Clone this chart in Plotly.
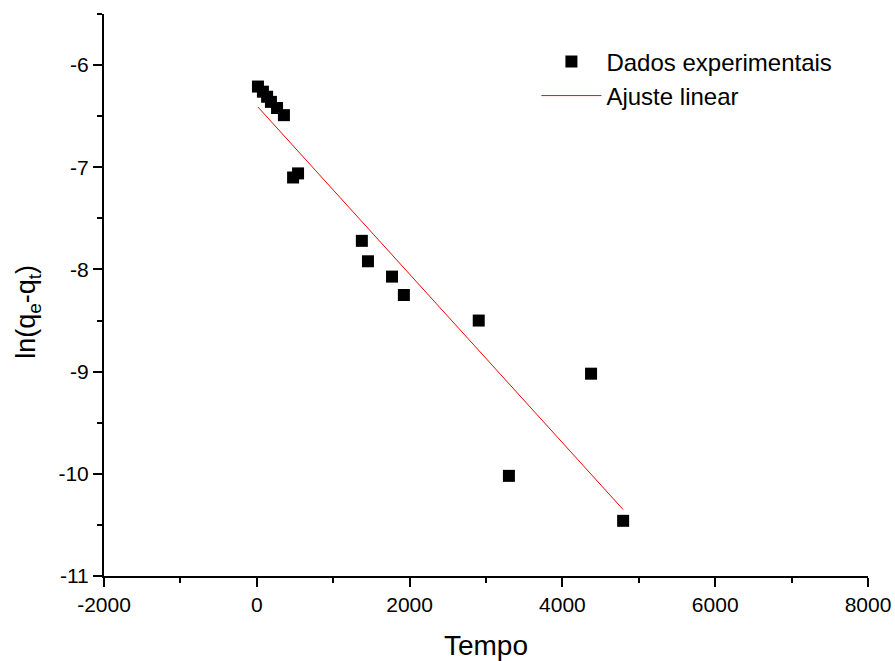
import plotly.graph_objects as go

tempo = [15, 80, 135, 185, 265, 355, 475, 540, 1375, 1455, 1770, 1925, 2905, 3300, 4375, 4795]
ln_q = [-6.21, -6.26, -6.31, -6.36, -6.42, -6.49, -7.10, -7.06, -7.72, -7.92, -8.07, -8.25, -8.50, -10.02, -9.02, -10.46]

fit_x = [15, 4795]
fit_y = [-6.41, -10.35]

x_tickvals = [-2000, 0, 2000, 4000, 6000, 8000]
x_ticktext = ["-2000", "0", "2000", "4000", "6000", "8000"]
y_tickvals = [-11, -10, -9, -8, -7, -6]
y_ticktext = ["-11", "-10", "-9", "-8", "-7", "-6"]

x_title = "Tempo"
y_title = "ln(q<sub>e</sub>-q<sub>t</sub>)"

fig = go.Figure()
fig.add_trace(go.Scatter(x=tempo, y=ln_q, mode="markers", name="Dados experimentais",
                         marker=dict(symbol="square", size=12, color="black", line=dict(width=0))))
fig.add_trace(go.Scatter(x=fit_x, y=fit_y, mode="lines", name="Ajuste linear",
                         line=dict(color="red", width=1)))

font = "Liberation Sans, Arial, sans-serif"
fig.update_layout(
    width=895, height=661,
    margin=dict(l=104, r=27, t=14, b=85),
    paper_bgcolor="white", plot_bgcolor="white",
    font=dict(family=font, color="black", size=21),
    showlegend=True,
    legend=dict(x=0.566, y=0.955, xanchor="left", yanchor="top", bgcolor="rgba(0,0,0,0)",
                font=dict(size=24, family=font), itemwidth=60, tracegroupgap=0),
    xaxis=dict(range=[-2000, 8000], tickvals=x_tickvals, ticktext=x_ticktext,
               showgrid=False, zeroline=False, automargin=False,
               showline=True, linecolor="black", linewidth=2, ticks="outside", ticklen=9,
               tickwidth=2, tickcolor="black", tickfont=dict(size=21),
               minor=dict(dtick=1000, tick0=0, ticks="outside", ticklen=5, tickwidth=2, tickcolor="black"),
               title=dict(text=x_title, font=dict(size=28), standoff=37)),
    yaxis=dict(range=[-11, -5.5], tickvals=y_tickvals, ticktext=y_ticktext,
               showgrid=False, zeroline=False, automargin=False,
               showline=True, linecolor="black", linewidth=2, ticks="outside", ticklen=9,
               tickwidth=2, tickcolor="black", tickfont=dict(size=21),
               minor=dict(dtick=0.5, tick0=0, ticks="outside", ticklen=5, tickwidth=2, tickcolor="black")),
    annotations=[dict(text=y_title, xref="paper", yref="paper", x=-0.0995, y=0.47,
                      xanchor="center", yanchor="middle", textangle=-90, showarrow=False,
                      font=dict(size=27, family=font, color="black"))],
)

fig.write_html("out.html", config={"displayModeBar": False},
               post_script="document.body.style.margin='0';document.documentElement.style.overflow='hidden';")
